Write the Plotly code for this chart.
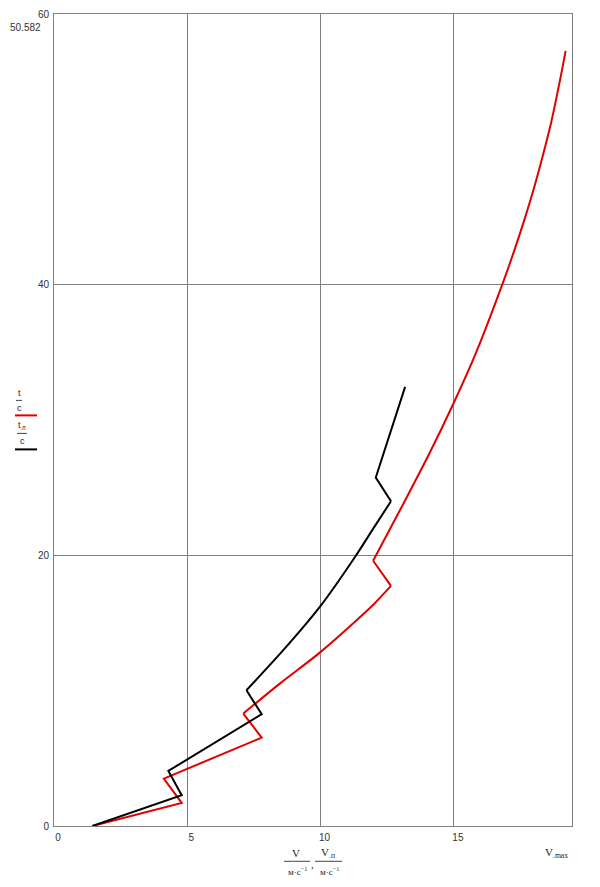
import plotly.graph_objects as go

# ---- data ----
V_red = [1.44, 4.79, 4.12, 7.79, 7.10, 8.47, 9.97, 11.35, 12.05, 12.64, 11.97,
         13.11, 14.08, 14.98, 15.82, 16.83, 17.27, 17.64, 17.98, 18.29,
         18.64, 19.03, 19.19]
t_red = [0.0, 1.70, 3.50, 6.53, 8.31, 10.52, 12.81, 15.20, 16.50, 17.74, 19.60,
         23.83, 27.52, 31.20, 34.92, 40.09, 42.55, 44.77, 46.98, 49.20,
         51.91, 55.61, 57.28]

V_black = [1.44, 4.79, 4.29, 7.79, 7.22, 8.60, 9.97, 11.29, 11.95, 12.64, 12.07, 13.17]
t_black = [0.0, 2.27, 4.07, 8.26, 10.03, 12.99, 16.19, 19.88, 21.90, 24.00, 25.75, 32.45]

# index ranges: straight (kinked) pieces and smooth pieces
red_pieces = [(0, 4, "linear"), (4, 9, "spline"), (9, 10, "linear"), (10, 22, "spline")]
black_pieces = [(0, 4, "linear"), (4, 9, "spline"), (9, 11, "linear")]

x_ticks = [0, 5, 10, 15]
y_ticks = [0, 20, 40, 60]
x_range = [0, 19.43]
y_range = [0, 60]
y_marker_label = "50.582"
x_marker_label = "V<sub>.max</sub>"

# ---- layout geometry (pixels of the 600x887 page) ----
W, H = 600, 887
OFF = 8  # default body margin of the page
L, R, T, B = 54, 572, 13.5, 825.7


def px(x):
    return (x - L) / (R - L)


def py(y):
    return (B - y) / (B - T)


fig = go.Figure()
for V, t, pieces, col in [(V_red, t_red, red_pieces, "#e00000"),
                          (V_black, t_black, black_pieces, "#000000")]:
    for i0, i1, shape in pieces:
        fig.add_trace(go.Scatter(x=V[i0:i1 + 1], y=t[i0:i1 + 1], mode="lines",
                                 line=dict(color=col, width=2, shape=shape,
                                           smoothing=0.8),
                                 showlegend=False, hoverinfo="skip"))

tick_font = dict(family="Liberation Sans, Arial, sans-serif", size=10, color="#333333")
lbl_family = "Liberation Serif, Times New Roman, serif"

common = dict(showgrid=True, gridcolor="#808080", gridwidth=1,
              showline=True, linecolor="#808080", linewidth=1, mirror=True,
              zeroline=False, ticks="", tickfont=tick_font, automargin=False,
              ticklabelstandoff=2)
fig.update_xaxes(range=x_range, tickvals=x_ticks, ticktext=[str(v) for v in x_ticks],
                 ticklabelshift=4, **common)
fig.update_yaxes(range=y_range, tickvals=y_ticks, ticktext=[str(v) for v in y_ticks],
                 **common)

annotations = []
shapes = []


def text(x, y, s, size, family, xanchor="center", yanchor="middle", color="#222222"):
    annotations.append(dict(x=px(x), y=py(y), xref="paper", yref="paper", text=s,
                            showarrow=False, font=dict(family=family, size=size,
                                                       color=color),
                            xanchor=xanchor, yanchor=yanchor))


def hline(x0, x1, y, color, width):
    shapes.append(dict(type="line", xref="paper", yref="paper",
                       x0=px(x0), x1=px(x1), y0=py(y), y1=py(y),
                       line=dict(color=color, width=width)))


sans = "Liberation Sans, Arial, sans-serif"

# y marker value at top-left
text(8, 27, y_marker_label, 10, sans, xanchor="left", color="#333333")

# left axis labels (t/c red, t.п/c black)
text(19, 393, "t", 9, sans)
hline(16, 22, 400, "#444444", 1)
text(19, 408, "c", 9, sans)
hline(15, 37, 415, "#e00000", 2)
text(22, 425, "t<sub>.п</sub>", 9, sans)
hline(17, 27, 433, "#444444", 1)
text(22, 441, "c", 9, sans)
hline(15, 37, 449, "#000000", 2)

# bottom axis label: V/(м·с^-1), V.п/(м·с^-1)
text(296, 853, "V", 11, lbl_family)
hline(284, 310, 861, "#444444", 1)
text(297, 871, "м·с<sup>−1</sup>", 9, lbl_family)
text(312, 864, ",", 11, lbl_family)
text(328, 853, "V<sub>.п</sub>", 11, lbl_family)
hline(315, 342, 861, "#444444", 1)
text(329, 871, "м·с<sup>−1</sup>", 9, lbl_family)

# x marker label
text(556, 853, x_marker_label, 11, lbl_family)

fig.update_layout(
    width=W - OFF, height=H - OFF,
    margin=dict(l=L - OFF, r=W - R, t=T - OFF, b=H - B, pad=0),
    plot_bgcolor="white", paper_bgcolor="white",
    annotations=annotations, shapes=shapes,
    showlegend=False,
)

fig.write_html("out.html")
